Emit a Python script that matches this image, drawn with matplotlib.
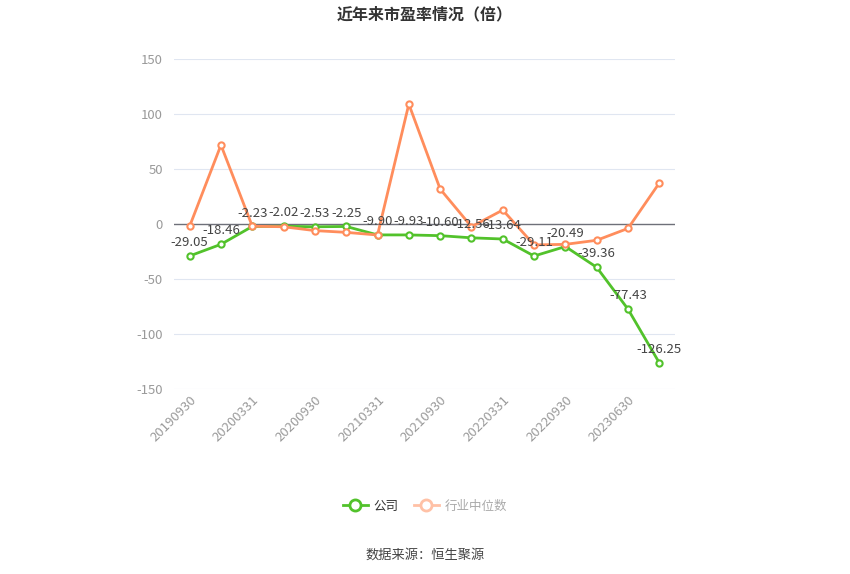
import matplotlib.pyplot as plt
from matplotlib.lines import Line2D

plt.rcParams['font.family'] = ['Noto Sans CJK SC', 'DejaVu Sans']

# --- DATA ---
dates = ["20190930", "20191231", "20200331", "20200630", "20200930", "20201231",
         "20210331", "20210630", "20210930", "20211231", "20220331", "20220630",
         "20220930", "20221231", "20230630", "20230930"]
company_pe = [-29.05, -18.46, -2.23, -2.02, -2.53, -2.25, -9.90, -9.93,
              -10.60, -12.56, -13.64, -29.11, -20.49, -39.36, -77.43, -126.25]
industry_pe = [-2.0, 71.8, -2.0, -2.5, -6.0, -7.6, -10.0, 109.0,
               31.8, -2.4, 12.7, -19.0, -18.5, -14.8, -4.0, 37.3]
y_ticks = [-150, -100, -50, 0, 50, 100, 150]

GREEN = "#52C22B"
ORANGE = "#FF8D5C"

fig = plt.figure(figsize=(8.5, 5.74), dpi=100)
ax = fig.add_axes([0.2047, 0.3223, 0.5894, 0.5749])

x = list(range(len(dates)))
ax.plot(x, company_pe, color=GREEN, lw=2, marker="o", ms=4.5, mfc="white",
        mec=GREEN, mew=1.5, zorder=3)
ax.plot(x, industry_pe, color=ORANGE, lw=2, marker="o", ms=4.5, mfc="white",
        mec=ORANGE, mew=1.5, zorder=4)

for i, v in zip(x, company_pe):
    ax.annotate(f"{v:.2f}", (i, v), xytext=(0, 5), textcoords="offset points",
                ha="center", va="bottom", fontsize=9.5, color="#444444", zorder=6)

ax.set_xlim(-0.5, len(dates) - 0.5)
ax.set_ylim(-150, 150)
ax.set_yticks(y_ticks)
ax.set_yticklabels([str(t) for t in y_ticks], color="#9a9a9a", fontsize=9.5)
ax.set_xticks(x[::2])
ax.set_xticklabels(dates[::2], rotation=45, ha="right", va="top",
                   rotation_mode="anchor", color="#9a9a9a", fontsize=9.5)
ax.tick_params(axis="y", length=0, pad=8)
ax.tick_params(axis="x", length=0, pad=3)

for t in y_ticks:
    if t != 0:
        ax.axhline(t, color="#E0E6F1", lw=0.8, zorder=1)
ax.axhline(0, color="#6E7079", lw=1, zorder=2)
for s in ax.spines.values():
    s.set_visible(False)

fig.text(0.5, 0.988, "近年来市盈率情况（倍）", ha="center", va="top",
         fontsize=11.5, fontweight="bold", color="#333333")

handles = [
    Line2D([], [], color=GREEN, lw=2, marker="o", ms=8, mfc="white", mec=GREEN, mew=2),
    Line2D([], [], color="#FFC1A6", lw=2, marker="o", ms=8, mfc="white", mec="#FFC1A6", mew=2),
]
leg = fig.legend(handles, ["公司", "行业中位数"], loc="center", bbox_to_anchor=(0.5, 0.118),
                 ncol=2, frameon=False, fontsize=9, handlelength=2, columnspacing=1.2,
                 handletextpad=0.5)
leg.get_texts()[0].set_color("#333333")
leg.get_texts()[1].set_color("#aaaaaa")

fig.text(0.5, 0.033, "数据来源：恒生聚源", ha="center", va="center",
         fontsize=9.5, color="#444444")

fig.savefig("out.png", dpi=100)
